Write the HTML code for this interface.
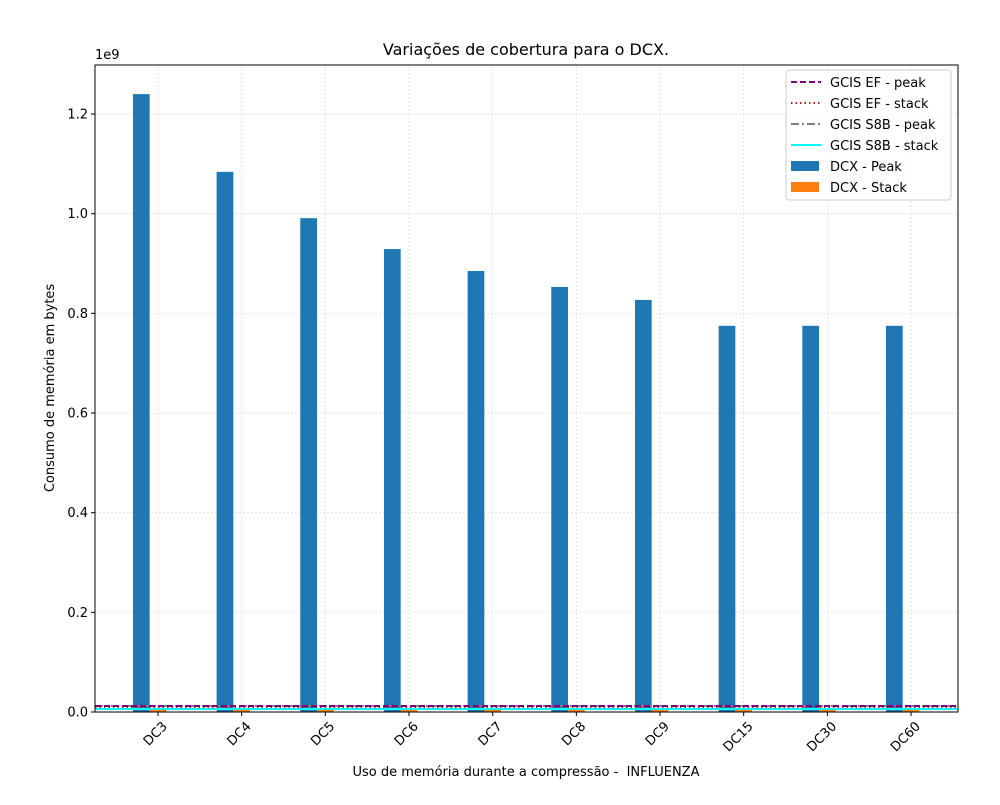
<!DOCTYPE html>
<html><head><meta charset="utf-8"><style>
body{margin:0;background:#fff;font-family:"Liberation Sans","DejaVu Sans",sans-serif}
svg text{font-family:"DejaVu Sans","Liberation Sans",sans-serif}
</style></head><body>
<svg id="chart" width="1000" height="800" viewBox="0 0 1000 800" xmlns="http://www.w3.org/2000/svg">
<rect width="1000" height="800" fill="#fff"/>
<text x="526" y="55" font-size="16" text-anchor="middle">Variações de cobertura para o DCX.</text>
<g id="grid"></g>
<g id="bars"></g>
<g id="lines"></g>
<rect x="95" y="65" width="863" height="647" fill="none" stroke="#000" stroke-width="1"/>
<g id="yticks"></g>
<g id="xticks"></g>
<text x="95" y="59" font-size="13">1e9</text>
<text transform="translate(54,388) rotate(-90)" font-size="13" text-anchor="middle">Consumo de memória em bytes</text>
<text x="526" y="776" font-size="13" text-anchor="middle">Uso de memória durante a compressão - &#160;INFLUENZA</text>
<g>
<rect x="786" y="70" width="165" height="130" rx="3" fill="#fff" fill-opacity="0.8" stroke="#ccc"/>
<line x1="791" y1="82" x2="821" y2="82" stroke="purple" stroke-width="2" stroke-dasharray="6,3"/>
<text x="830" y="87" font-size="13">GCIS EF - peak</text>
<line x1="791" y1="103" x2="821" y2="103" stroke="#b22222" stroke-width="2" stroke-dasharray="1.5,3"/>
<text x="830" y="108" font-size="13">GCIS EF - stack</text>
<line x1="791" y1="124" x2="821" y2="124" stroke="gray" stroke-width="2" stroke-dasharray="8,3,2,3"/>
<text x="830" y="129" font-size="13">GCIS S8B - peak</text>
<line x1="791" y1="145" x2="821" y2="145" stroke="cyan" stroke-width="2"/>
<text x="830" y="150" font-size="13">GCIS S8B - stack</text>
<rect x="791" y="161" width="28" height="10" fill="#1f77b4"/>
<text x="830" y="171" font-size="13">DCX - Peak</text>
<rect x="791" y="182" width="28" height="10" fill="#ff7f0e"/>
<text x="830" y="192" font-size="13">DCX - Stack</text>
</g>
</svg>
<script>
const categories=["DC3","DC4","DC5","DC6","DC7","DC8","DC9","DC15","DC30","DC60"];
const peakValues=[1.240e9,1.084e9,0.991e9,0.929e9,0.885e9,0.853e9,0.827e9,0.775e9,0.775e9,0.775e9];
const stackValues=[5e6,5e6,5e6,5e6,5e6,5e6,5e6,5e6,5e6,5e6];
const gcisEfPeak=12e6, gcisEfStack=10e6, gcisS8bPeak=12e6, gcisS8bStack=6e6;
const yTicks=[0,0.2e9,0.4e9,0.6e9,0.8e9,1.0e9,1.2e9];
const yTickLabels=["0.0","0.2","0.4","0.6","0.8","1.0","1.2"];
const NS="http://www.w3.org/2000/svg";
const X0=158, STEP=83.67, BW=16.7, L=95, R=958;
const xs=i=>X0+i*STEP;
const ys=v=>712-v/1e9*498.3;
function mk(tag,attrs,parent){const e=document.createElementNS(NS,tag);for(const k in attrs)e.setAttribute(k,attrs[k]);document.getElementById(parent).appendChild(e);return e;}
yTicks.forEach((v,i)=>{
 const y=ys(v);
 const g=mk('line',{x1:L,x2:R,y1:y,y2:y,stroke:'#ddd','stroke-dasharray':'2,2','stroke-width':0.8},'grid');
 
 
 const t=mk('line',{x1:L-4,x2:L,y1:y,y2:y,stroke:'#000'},'yticks');
 
 
 const tx=mk('text',{x:L-7,y:y+4.5,'font-size':13,'text-anchor':'end'},'yticks');
 tx.textContent=yTickLabels[i];
 
 
});
categories.forEach((c,i)=>{
 const x=xs(i);
 const g=mk('line',{x1:x,x2:x,y1:65,y2:712,stroke:'#ddd','stroke-dasharray':'2,2','stroke-width':0.8},'grid');
 
 
 const b=mk('rect',{x:x-BW*1.5,y:ys(peakValues[i]),width:BW,height:712-ys(peakValues[i]),fill:'#1f77b4'},'bars');
 
 
 const s=mk('rect',{x:x-BW*0.5,y:ys(stackValues[i]),width:BW,height:712-ys(stackValues[i]),fill:'#ff7f0e'},'bars');
 
 
 const t=mk('line',{x1:x,x2:x,y1:712,y2:716,stroke:'#000'},'xticks');
 
 
 const tx=mk('text',{transform:`translate(${x+10},${727}) rotate(-45)`,'font-size':13,'text-anchor':'end'},'xticks');
 tx.textContent=c;
 
 
});
[[gcisS8bStack,'cyan',null,'gcis-s8b-stack-line'],[gcisEfStack,'#b22222','1.5,3','gcis-ef-stack-line'],[gcisS8bPeak,'gray','8,3,2,3','gcis-s8b-peak-line'],[gcisEfPeak,'purple','6,3','gcis-ef-peak-line']].forEach(d=>{
 const a={x1:L,x2:R,y1:ys(d[0]),y2:ys(d[0]),stroke:d[1],'stroke-width':2};
 if(d[2])a['stroke-dasharray']=d[2];
 const l=mk('line',a,'lines');
 
 
});
</script>
</body></html>
